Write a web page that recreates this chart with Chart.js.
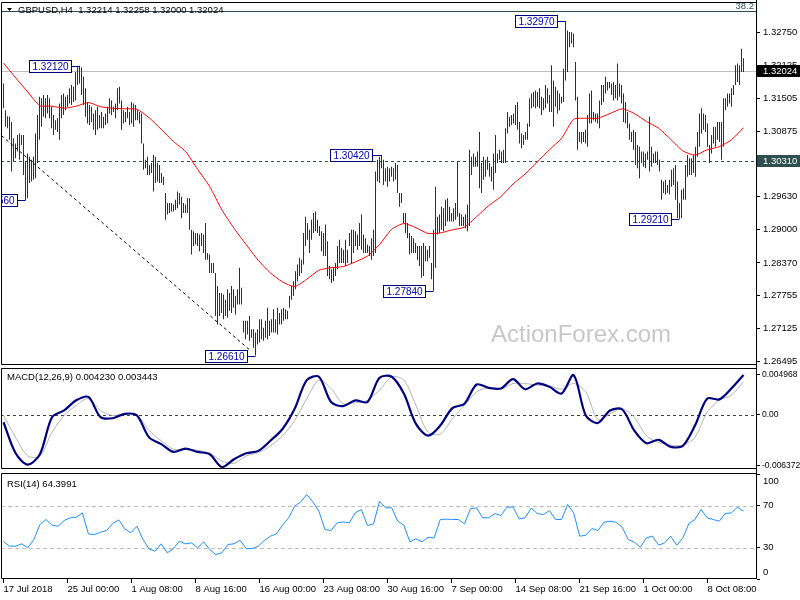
<!DOCTYPE html>
<html>
<head>
<meta charset="utf-8">
<script src="https://cdn.jsdelivr.net/npm/chart.js@4.4.0/dist/chart.umd.min.js"></script>
<style>
  body { margin: 0; background: #fff; }
  #wrap { position: relative; width: 800px; height: 600px; overflow: hidden; }
  canvas { position: absolute; left: 0; }
</style>
</head>
<body>
<div id="wrap">
  <canvas id="priceChart" width="800" height="367" style="top:0px"></canvas>
  <canvas id="macdChart" width="800" height="103" style="top:367px"></canvas>
  <canvas id="rsiChart" width="800" height="130" style="top:470px"></canvas>
</div>
<script>
// ---- data (one entry per 4h bar) ----
const symbol = 'GBPUSD,H4';
const lastBar = [1.32214, 1.32258, 1.32000, 1.32024]; // open high low close

const highs = [
  1.3178,1.3127,1.3116,1.3115,1.3105,1.3074,1.3064,1.3080,1.3083,1.3080,
  1.3080,1.3030,1.3045,1.3039,1.3033,1.3039,1.3083,1.3118,1.3153,1.3150,
  1.3156,1.3150,1.3156,1.3150,1.3134,1.3118,1.3108,1.3112,1.3140,1.3156,
  1.3159,1.3153,1.3156,1.3169,1.3175,1.3172,1.3200,1.3209,1.3212,1.3209,
  1.3191,1.3169,1.3143,1.3137,1.3134,1.3121,1.3127,1.3134,1.3118,1.3124,
  1.3115,1.3121,1.3134,1.3150,1.3146,1.3134,1.3140,1.3169,1.3172,1.3146,
  1.3127,1.3124,1.3134,1.3124,1.3143,1.3140,1.3137,1.3127,1.3124,1.3121,
  1.3064,1.3033,1.3039,1.3023,1.3027,1.3042,1.3039,1.3027,1.3023,1.3008,
  1.3001,1.2970,1.2951,1.2951,1.2951,1.2948,1.2957,1.2973,1.2970,1.2963,
  1.2951,1.2948,1.2960,1.2960,1.2900,1.2897,1.2894,1.2894,1.2891,1.2894,
  1.2891,1.2913,1.2856,1.2853,1.2837,1.2837,1.2818,1.2793,1.2780,1.2780,
  1.2777,1.2767,1.2787,1.2780,1.2793,1.2787,1.2774,1.2787,1.2828,1.2790,
  1.2727,1.2727,1.2727,1.2736,1.2711,1.2711,1.2705,1.2711,1.2730,1.2730,
  1.2714,1.2727,1.2752,1.2727,1.2730,1.2749,1.2730,1.2752,1.2742,1.2749,
  1.2752,1.2749,1.2746,1.2774,1.2793,1.2802,1.2821,1.2834,1.2847,1.2843,
  1.2894,1.2925,1.2913,1.2900,1.2919,1.2932,1.2935,1.2919,1.2907,1.2897,
  1.2894,1.2910,1.2878,1.2831,1.2825,1.2828,1.2837,1.2869,1.2881,1.2866,
  1.2862,1.2881,1.2862,1.2894,1.2900,1.2900,1.2897,1.2891,1.2913,1.2929,
  1.2891,1.2884,1.2872,1.2869,1.2884,1.2900,1.3011,1.3033,1.3039,1.3042,
  1.3033,1.3017,1.3020,1.3017,1.3020,1.3017,1.3027,1.3023,1.2970,1.2970,
  1.2932,1.2932,1.2913,1.2894,1.2888,1.2884,1.2875,1.2869,1.2869,1.2869,
  1.2875,1.2869,1.2862,1.2869,1.2837,1.2900,1.2982,1.2925,1.2929,1.2944,
  1.2941,1.2957,1.2960,1.2944,1.2932,1.2941,1.2951,1.3030,1.2932,1.2929,
  1.2925,1.2929,1.2948,1.3052,1.3039,1.3045,1.3039,1.3049,1.3086,1.3027,
  1.3039,1.3033,1.3039,1.3027,1.3020,1.3045,1.3080,1.3045,1.3052,1.3049,
  1.3052,1.3093,1.3124,1.3115,1.3118,1.3121,1.3137,1.3143,1.3105,1.3083,
  1.3080,1.3086,1.3102,1.3150,1.3159,1.3162,1.3165,1.3162,1.3169,1.3153,
  1.3150,1.3175,1.3169,1.3156,1.3213,1.3184,1.3172,1.3165,1.3159,1.3153,
  1.3206,1.3297,1.3279,1.3276,1.3276,1.3273,1.3219,1.3153,1.3086,1.3086,
  1.3086,1.3090,1.3118,1.3159,1.3165,1.3124,1.3121,1.3121,1.3146,1.3175,
  1.3175,1.3191,1.3181,1.3181,1.3178,1.3181,1.3175,1.3216,1.3178,1.3175,
  1.3159,1.3143,1.3124,1.3102,1.3086,1.3090,1.3086,1.3061,1.3058,1.3049,
  1.3049,1.3045,1.3049,1.3115,1.3058,1.3045,1.3049,1.3049,1.3033,1.2995,
  1.2992,1.2995,1.2985,1.2995,1.3014,1.3017,1.3023,1.2992,1.2951,1.2976,
  1.2979,1.3023,1.3042,1.3036,1.3036,1.3042,1.3058,1.3086,1.3121,1.3131,
  1.3121,1.3118,1.3102,1.3061,1.3080,1.3096,1.3096,1.3105,1.3105,1.3105,
  1.3150,1.3150,1.3159,1.3159,1.3169,1.3175,1.3213,1.3216,1.3213,1.3244,
  1.3226
];
const lows = [
  1.3131,1.3096,1.3093,1.3071,1.3011,1.3030,1.3036,1.3049,1.3033,1.3061,
  1.3004,1.2956,1.2960,1.2989,1.2992,1.2995,1.2998,1.3027,1.3071,1.3096,
  1.3115,1.3112,1.3121,1.3112,1.3093,1.3080,1.3090,1.3086,1.3071,1.3112,
  1.3118,1.3127,1.3134,1.3140,1.3137,1.3143,1.3146,1.3175,1.3178,1.3156,
  1.3137,1.3115,1.3102,1.3099,1.3105,1.3090,1.3080,1.3090,1.3093,1.3093,
  1.3093,1.3099,1.3102,1.3121,1.3118,1.3124,1.3112,1.3127,1.3140,1.3090,
  1.3102,1.3105,1.3112,1.3099,1.3102,1.3096,1.3108,1.3108,1.3102,1.3064,
  1.3014,1.3017,1.3004,1.3004,1.3008,1.2973,1.2989,1.2992,1.2989,1.2989,
  1.2985,1.2919,1.2929,1.2932,1.2935,1.2935,1.2938,1.2941,1.2948,1.2922,
  1.2932,1.2932,1.2932,1.2900,1.2853,1.2869,1.2872,1.2869,1.2859,1.2869,
  1.2856,1.2843,1.2843,1.2818,1.2818,1.2818,1.2736,1.2720,1.2736,1.2742,
  1.2730,1.2736,1.2733,1.2746,1.2742,1.2752,1.2739,1.2758,1.2758,1.2758,
  1.2705,1.2692,1.2701,1.2689,1.2695,1.2676,1.2661,1.2682,1.2686,1.2692,
  1.2689,1.2695,1.2692,1.2698,1.2705,1.2705,1.2705,1.2701,1.2720,1.2720,
  1.2727,1.2730,1.2730,1.2752,1.2767,1.2774,1.2787,1.2802,1.2812,1.2818,
  1.2834,1.2869,1.2881,1.2856,1.2881,1.2894,1.2897,1.2894,1.2888,1.2859,
  1.2850,1.2850,1.2812,1.2806,1.2799,1.2802,1.2812,1.2825,1.2837,1.2837,
  1.2837,1.2831,1.2837,1.2869,1.2837,1.2856,1.2869,1.2862,1.2869,1.2862,
  1.2856,1.2856,1.2856,1.2850,1.2843,1.2850,1.2856,1.2992,1.2989,1.3017,
  1.2985,1.2992,1.2982,1.2992,1.3001,1.2992,1.2995,1.2970,1.2944,1.2951,
  1.2913,1.2894,1.2884,1.2853,1.2856,1.2856,1.2856,1.2843,1.2831,1.2809,
  1.2812,1.2840,1.2840,1.2847,1.2806,1.2784,1.2828,1.2891,1.2894,1.2900,
  1.2897,1.2907,1.2916,1.2916,1.2916,1.2916,1.2919,1.2925,1.2907,1.2907,
  1.2907,1.2903,1.2897,1.2907,1.3004,1.3020,1.3020,1.3020,1.2979,1.2970,
  1.2995,1.3001,1.3014,1.3001,1.2992,1.2976,1.3008,1.3027,1.3033,1.3027,
  1.3027,1.3027,1.3083,1.3096,1.3099,1.3102,1.3099,1.3090,1.3064,1.3055,
  1.3061,1.3071,1.3071,1.3096,1.3131,1.3134,1.3131,1.3134,1.3131,1.3118,
  1.3127,1.3131,1.3140,1.3124,1.3124,1.3096,1.3134,1.3121,1.3127,1.3140,
  1.3143,1.3184,1.3200,1.3247,1.3254,1.3247,1.3146,1.3052,1.3067,1.3064,
  1.3067,1.3064,1.3058,1.3102,1.3102,1.3108,1.3105,1.3102,1.3093,1.3137,
  1.3143,1.3159,1.3165,1.3169,1.3156,1.3146,1.3150,1.3146,1.3153,1.3140,
  1.3105,1.3102,1.3093,1.3071,1.3067,1.3052,1.3023,1.3017,1.2998,1.3027,
  1.3020,1.3017,1.3033,1.3011,1.3020,1.3027,1.3027,1.3023,1.3011,1.2957,
  1.2970,1.2967,1.2970,1.2967,1.2982,1.2985,1.2957,1.2922,1.2921,1.2922,
  1.2957,1.2957,1.3001,1.3004,1.3004,1.3008,1.3001,1.3039,1.3058,1.3083,
  1.3090,1.3086,1.3058,1.3027,1.3045,1.3064,1.3058,1.3071,1.3067,1.3033,
  1.3058,1.3127,1.3134,1.3140,1.3134,1.3156,1.3175,1.3181,1.3175,1.3200,
  1.3200
];

// red moving average, sampled evenly from the first bar to the last
const maValues = [
  1.3217,1.3189,1.3162,1.3136,1.3135,1.3131,1.3135,1.3142,1.3134,1.3131,
  1.3130,1.3129,1.3113,1.3091,1.3068,1.3049,1.3015,1.2982,1.2938,1.2903,
  1.2872,1.2842,1.2818,1.2801,1.2792,1.2806,1.2823,1.2828,1.2830,1.2839,
  1.2850,1.2872,1.2901,1.2912,1.2904,1.2893,1.2894,1.2900,1.2905,1.2925,
  1.2946,1.2963,1.2987,1.3006,1.3029,1.3052,1.3074,1.3110,1.3112,1.3112,
  1.3121,1.3130,1.3121,1.3106,1.3093,1.3072,1.3050,1.3042,1.3052,1.3058,
  1.3071,1.3094
];

// MACD(12,26,9) main and signal, same sampling as the average
const macdMain = [
  -0.00092,-0.00479,-0.00620,-0.00491,-0.00029,0.00055,0.00181,0.00223,-0.00029,-0.00042,
  0.00013,-0.00008,-0.00281,-0.00365,-0.00462,-0.00420,-0.00462,-0.00491,-0.00651,-0.00554,
  -0.00479,-0.00449,-0.00323,-0.00176,0.00076,0.00433,0.00475,0.00160,0.00109,0.00181,
  0.00160,0.00462,0.00475,0.00265,-0.00113,-0.00260,-0.00134,0.00084,0.00139,0.00378,
  0.00336,0.00328,0.00445,0.00319,0.00391,0.00349,0.00265,0.00496,-0.00008,-0.00101,
  0.00055,0.00067,-0.00197,-0.00353,-0.00311,-0.00399,-0.00386,-0.00134,0.00202,0.00193,
  0.00328,0.00496
];
const macdSignal = [
  -0.00008,-0.00281,-0.00512,-0.00512,-0.00218,-0.00008,0.00118,0.00202,0.00055,-0.00008,
  0.00013,0.00000,-0.00197,-0.00323,-0.00428,-0.00428,-0.00441,-0.00479,-0.00575,-0.00605,
  -0.00512,-0.00470,-0.00386,-0.00260,-0.00071,0.00202,0.00433,0.00328,0.00139,0.00151,
  0.00181,0.00307,0.00475,0.00433,0.00118,-0.00218,-0.00239,-0.00050,0.00118,0.00286,
  0.00336,0.00319,0.00391,0.00391,0.00370,0.00361,0.00319,0.00391,0.00286,-0.00059,
  0.00013,0.00076,-0.00029,-0.00260,-0.00344,-0.00378,-0.00378,-0.00281,0.00034,0.00181,
  0.00244,0.00412
];
const macdLast = [0.004230, 0.003443];
const macdTicks = [0.004968, 0, -0.006372];

// RSI(14), sampled evenly from first to last bar
const rsiValues = [
  35.4,31.3,31.3,33.5,29.7,37.6,51.9,56.7,51.3,50.3,
  55.7,58.3,58.9,63.0,43.0,42.4,44.6,46.2,52.9,56.3,
  47.8,44.0,50.3,37.6,28.7,26.5,33.5,24.9,29.0,36.0,
  33.5,34.4,29.7,35.4,28.1,23.3,24.9,32.9,33.5,37.0,
  29.0,29.0,31.3,36.7,40.8,43.0,51.3,58.3,69.4,73.5,
  80.5,73.5,64.6,47.1,46.2,53.5,54.4,53.5,63.0,66.2,
  51.0,52.5,74.1,67.8,67.8,55.1,
  51.3,35.4,38.3,35.4,39.8,39.2,56.7,57.0,56.7,56.7,
  52.5,67.1,67.8,58.3,58.3,62.4,60.5,68.4,68.7,57.3,
  58.3,67.5,62.4,61.4,65.2,56.7,56.7,71.0,63.0,40.8,
  41.7,48.1,46.2,54.1,55.1,54.1,49.4,37.6,35.1,30.3,
  39.2,40.8,32.2,34.4,40.8,32.2,39.2,52.9,56.7,66.2,
  58.3,56.7,55.1,62.4,63.0,68.4,64.6
];
const rsiLast = 64.3991;
const rsiLevels = [70, 30];
const rsiTicks = [100, 70, 30, 0];

// price axis
const priceTicks = [1.32750, 1.32125, 1.31505, 1.30875, 1.30250, 1.29630, 1.29000, 1.28370, 1.27755, 1.27125, 1.26495];

// time axis
const dateTickBars = [0, 32, 64, 96, 128, 160, 192, 224, 256, 288, 320, 352];
const dateLabels = ['17 Jul 2018', '25 Jul 00:00', '1 Aug 08:00', '8 Aug 16:00', '16 Aug 00:00', '23 Aug 08:00',
                    '30 Aug 16:00', '7 Sep 00:00', '14 Sep 08:00', '21 Sep 16:00', '1 Oct 00:00', '8 Oct 08:00'];

// marked swing points
const pivotBars = [38, 11, 126, 189, 215, 281, 338];
const pivotPrices = [1.32120, 1.29560, 1.26610, 1.30420, 1.27840, 1.32970, 1.29210];

// drawn objects
const trendBars = [-1, 123];
const trendPrices = [1.3079, 1.2672];
const supportLevel = 1.30310;
const fiboLevel = 1.3316;
const fiboLabel = '38.2';

// ---- look ----
const FONT = '"Liberation Sans", Arial, sans-serif';
Chart.defaults.font.family = FONT;
Chart.defaults.font.size = 9.5;
Chart.defaults.color = '#000';

const X_MIN = -1.25, X_MAX = 376.75;
const AXIS_W = 43;
const lastIdx = highs.length - 1;

function hLine(ctx, area, py, color, dash) {
  const yy = Math.round(py) + 0.5;
  ctx.save();
  ctx.strokeStyle = color;
  ctx.lineWidth = 1;
  ctx.setLineDash(dash || []);
  ctx.beginPath();
  ctx.moveTo(area.left, yy);
  ctx.lineTo(area.right, yy);
  ctx.stroke();
  ctx.restore();
}

function drawFrame(chart, rightTo) {
  const {ctx, chartArea: a} = chart;
  ctx.save();
  ctx.strokeStyle = '#000';
  ctx.lineWidth = 1;
  ctx.beginPath();
  ctx.moveTo(a.right - 0.5, 0);
  ctx.lineTo(a.right - 0.5, rightTo);
  ctx.moveTo(a.right - 0.5, a.top + 0.5);
  ctx.lineTo(a.left + 0.5, a.top + 0.5);
  ctx.lineTo(a.left + 0.5, a.bottom - 0.5);
  ctx.lineTo(a.right - 0.5, a.bottom - 0.5);
  ctx.stroke();
  ctx.restore();
}

function axisBox(ctx, a, py, text, bg) {
  const cy = Math.round(py);
  ctx.save();
  ctx.fillStyle = bg;
  ctx.fillRect(a.right, cy - 6, 800 - a.right, 12);
  ctx.fillStyle = '#fff';
  ctx.font = '9.5px ' + FONT;
  ctx.textBaseline = 'middle';
  ctx.fillText(text, a.right + 6, cy + 0.5);
  ctx.restore();
}

// right-hand value axis, fixed width, no extra padding for end labels
const rightAxis = (extra) => Object.assign({
  position: 'right',
  border: {display: false},
  grid: {drawOnChartArea: false, tickLength: 3, color: '#000'},
  afterFit: s => { s.width = AXIS_W; s.paddingTop = 0; s.paddingBottom = 0; }
}, extra);

// ---- main price panel ----
const priceDecor = {
  id: 'priceDecor',
  beforeDatasetsDraw(chart) {
    const {ctx, chartArea: a, scales: {y}} = chart;
    hLine(ctx, a, y.getPixelForValue(lastBar[3]), '#c0c0c0');
    hLine(ctx, a, y.getPixelForValue(supportLevel), '#2f4f4f', [3, 3]);
    hLine(ctx, a, y.getPixelForValue(fiboLevel), '#2f4f4f');
    ctx.save();
    ctx.font = '24px ' + FONT;
    ctx.fillStyle = '#c8c8c8';
    ctx.textBaseline = 'alphabetic';
    ctx.fillText('ActionForex.com', 491, 342);
    ctx.restore();
  },
  afterDatasetsDraw(chart) {
    const {ctx, chartArea: a, scales: {x, y}} = chart;
    ctx.save();
    ctx.beginPath();
    ctx.rect(a.left + 1, a.top, a.right - a.left - 1, a.bottom - a.top);
    ctx.clip();
    ctx.font = '10px ' + FONT;
    ctx.lineWidth = 1;
    ctx.textBaseline = 'middle';
    pivotBars.forEach((b, i) => {
      const txt = pivotPrices[i].toFixed(5);
      const px = x.getPixelForValue(b);
      const cy = Math.round(y.getPixelForValue(pivotPrices[i])) + 0.5;
      const w = Math.round(ctx.measureText(txt).width) + 6;
      const right = Math.round(px - 9) + 0.5;
      const left = right - w;
      ctx.fillStyle = '#fff';
      ctx.fillRect(left, cy - 6, w, 12);
      ctx.strokeStyle = '#000080';
      ctx.strokeRect(left, cy - 6, w, 12);
      ctx.beginPath();
      ctx.moveTo(right, cy);
      ctx.lineTo(px, cy);
      ctx.stroke();
      ctx.fillStyle = '#0000b4';
      ctx.fillText(txt, left + 3, cy + 0.5);
    });
    ctx.restore();
  },
  afterDraw(chart) {
    const {ctx, chartArea: a, scales: {y}} = chart;
    drawFrame(chart, chart.height);
    axisBox(ctx, a, y.getPixelForValue(lastBar[3]), lastBar[3].toFixed(5), '#000');
    axisBox(ctx, a, y.getPixelForValue(supportLevel), supportLevel.toFixed(5), '#2f4f4f');
    ctx.save();
    ctx.font = '9.5px ' + FONT;
    ctx.textBaseline = 'middle';
    ctx.fillStyle = '#2f4f4f';
    ctx.textAlign = 'right';
    ctx.fillText(fiboLabel, a.right - 3, 6);
    ctx.textAlign = 'left';
    ctx.fillStyle = '#000';
    ctx.fillText(symbol + '  ' + lastBar.map(v => v.toFixed(5)).join(' '), 18, 10.5);
    ctx.beginPath();
    ctx.moveTo(7, 8); ctx.lineTo(12, 8); ctx.lineTo(9.5, 11); ctx.closePath();
    ctx.fill();
    ctx.restore();
  }
};

new Chart(document.getElementById('priceChart'), {
  type: 'bar',
  data: {
    datasets: [
      {
        type: 'line',
        data: maValues.map((v, k) => ({x: k * lastIdx / (maValues.length - 1), y: v})),
        borderColor: '#ff0000',
        borderWidth: 1,
        pointRadius: 0,
        tension: 0.2,
        order: 0
      },
      {
        type: 'line',
        data: trendBars.map((b, k) => ({x: b, y: trendPrices[k]})),
        borderColor: '#000',
        borderWidth: 1,
        borderDash: [3, 3],
        pointRadius: 0,
        order: 0
      },
      {
        type: 'bar',
        data: highs.map((h, i) => ({x: i, y: [lows[i], h]})),
        backgroundColor: '#0f3652',
        borderWidth: 0,
        barThickness: 1,
        inflateAmount: 0,
        order: 1
      }
    ]
  },
  options: {
    responsive: false,
    animation: false,
    layout: {padding: {left: 1, top: 2, bottom: 2, right: 0}},
    plugins: {legend: {display: false}, tooltip: {enabled: false}},
    scales: {
      x: {type: 'linear', display: false, min: X_MIN, max: X_MAX, offset: false},
      y: rightAxis({
        type: 'linear',
        min: 1.2643, max: 1.3333,
        beginAtZero: false,
        bounds: 'data',
        afterBuildTicks: s => { s.ticks = priceTicks.map(v => ({value: v})); },
        ticks: {padding: 3, autoSkip: false, callback: v => v.toFixed(5)}
      })
    }
  },
  plugins: [priceDecor]
});

// ---- MACD panel ----
const macdDecor = {
  id: 'macdDecor',
  beforeDatasetsDraw(chart) {
    const {ctx, chartArea: a, scales: {y}} = chart;
    hLine(ctx, a, y.getPixelForValue(0), '#404040', [3, 3]);
  },
  afterDraw(chart) {
    const {ctx} = chart;
    drawFrame(chart, chart.height);
    ctx.save();
    ctx.font = '9.5px ' + FONT;
    ctx.fillStyle = '#000';
    ctx.textBaseline = 'middle';
    ctx.fillText('MACD(12,26,9) ' + macdLast.map(v => v.toFixed(6)).join(' '), 7, 10);
    ctx.restore();
  }
};

const stepOf = arr => lastIdx / (arr.length - 1);

new Chart(document.getElementById('macdChart'), {
  type: 'line',
  data: {
    datasets: [
      {
        data: macdMain.map((v, k) => ({x: k * stepOf(macdMain), y: v})),
        borderColor: '#000080',
        borderWidth: 2.2,
        pointRadius: 0,
        tension: 0.3,
        order: 0
      },
      {
        data: macdSignal.map((v, k) => ({x: k * stepOf(macdSignal), y: v})),
        borderColor: '#b4b4b4',
        borderWidth: 1,
        pointRadius: 0,
        tension: 0.3,
        order: 1
      }
    ]
  },
  options: {
    responsive: false,
    animation: false,
    layout: {padding: {left: 1, top: 1, bottom: 1, right: 0}},
    plugins: {legend: {display: false}, tooltip: {enabled: false}},
    scales: {
      x: {type: 'linear', display: false, min: X_MIN, max: X_MAX},
      y: rightAxis({
        type: 'linear',
        min: -0.00675, max: 0.00584,
        bounds: 'data',
        afterBuildTicks: s => { s.ticks = macdTicks.map(v => ({value: v})); },
        ticks: {padding: 2, autoSkip: false, font: {size: 8.5},
                callback: v => (v === 0 ? '0.00' : v.toFixed(6))}
      })
    }
  },
  plugins: [macdDecor]
});

// ---- RSI panel ----
const rsiDecor = {
  id: 'rsiDecor',
  beforeDatasetsDraw(chart) {
    const {ctx, chartArea: a, scales: {y}} = chart;
    rsiLevels.forEach(l => hLine(ctx, a, y.getPixelForValue(l), '#c0c0c0', [4, 3]));
  },
  afterDraw(chart) {
    const {ctx, chartArea: a, scales: {y}} = chart;
    drawFrame(chart, a.bottom);
    ctx.save();
    ctx.font = '9.5px ' + FONT;
    ctx.fillStyle = '#000';
    ctx.textBaseline = 'middle';
    ctx.fillText('RSI(14) ' + rsiLast.toFixed(4), 7, 14);
    rsiTicks.forEach(v => {
      const py = Math.min(Math.max(y.getPixelForValue(v), a.top + 8), a.bottom - 7);
      ctx.fillText(String(v), a.right + 6, py);
    });
    ctx.restore();
  }
};

new Chart(document.getElementById('rsiChart'), {
  type: 'line',
  data: {
    datasets: [{
      data: rsiValues.map((v, k) => ({x: k * stepOf(rsiValues), y: v})),
      borderColor: '#1e90ff',
      borderWidth: 1,
      pointRadius: 0,
      tension: 0
    }]
  },
  options: {
    responsive: false,
    animation: false,
    layout: {padding: {left: 1, top: 3, bottom: 0, right: 0}},
    plugins: {legend: {display: false}, tooltip: {enabled: false}},
    scales: {
      x: {
        type: 'linear',
        min: X_MIN, max: X_MAX,
        border: {display: false},
        grid: {drawOnChartArea: false, tickLength: 4, color: '#000'},
        afterBuildTicks: s => { s.ticks = dateTickBars.map(v => ({value: v})); },
        afterFit: s => { s.height = 21; s.paddingLeft = 0; s.paddingRight = 0; },
        ticks: {align: 'start', padding: 1, autoSkip: false, maxRotation: 0,
                callback: (v, i) => dateLabels[i]}
      },
      y: rightAxis({
        type: 'linear',
        min: 0, max: 101,
        afterBuildTicks: s => { s.ticks = rsiTicks.map(v => ({value: v})); },
        ticks: {display: false}
      })
    }
  },
  plugins: [rsiDecor]
});
</script>
</body>
</html>
